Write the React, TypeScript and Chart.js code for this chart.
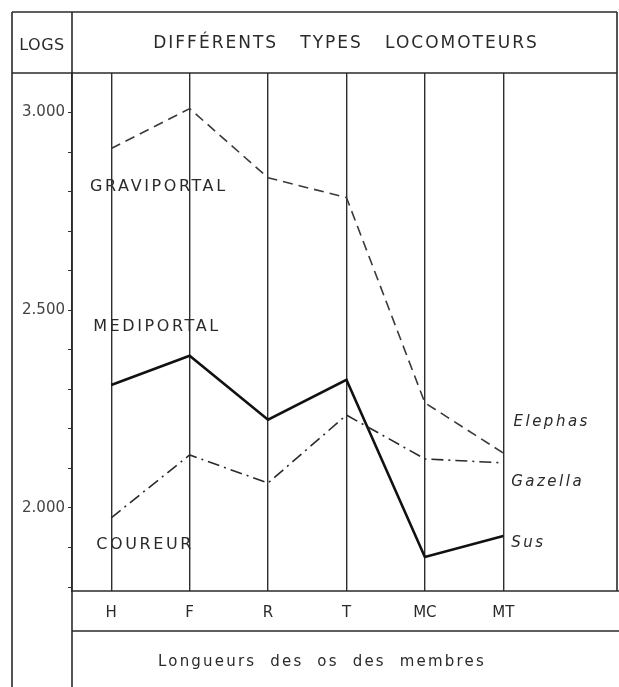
import React, { useEffect, useRef } from "react";
import { Chart, registerables } from "chart.js";

Chart.register(...registerables);

// ---- data ----
const categories = ["H", "F", "R", "T", "MC", "MT"];
const elephas = [2.909, 3.01, 2.835, 2.785, 2.266, 2.139];
const sus = [2.311, 2.385, 2.223, 2.324, 1.876, 1.929];
const gazella = [1.975, 2.134, 2.063, 2.235, 2.124, 2.114];
const yTickValues = [1.8, 1.9, 2.0, 2.1, 2.2, 2.3, 2.4, 2.5, 2.6, 2.7, 2.8, 2.9, 3.0];
const yLabelValues = [2.0, 2.5, 3.0];
const yLabelTexts = ["2.000", "2.500", "3.000"];
const zoneNames = ["GRAVIPORTAL", "MEDIPORTAL", "COUREUR"];
const speciesNames = ["Elephas", "Gazella", "Sus"];
const titleText = "DIFFÉRENTS   TYPES   LOCOMOTEURS";
const yAxisTitle = "LOGS";
const xAxisTitle = "Longueurs  des  os  des  membres";

// annotation anchors (data units)
const zoneAnchors = [
  { x: -0.27, y: 2.813 },
  { x: -0.23, y: 2.458 },
  { x: -0.19, y: 1.906 },
];
const speciesAnchors = [
  { x: 5.13, y: 2.218 },
  { x: 5.1, y: 2.066 },
  { x: 5.1, y: 1.911 },
];

const INK = "#2a2a2a";

const setLS = (ctx: any, v: string) => {
  try { ctx.letterSpacing = v; } catch (e) {}
};

const framePlugin = {
  id: "frame",
  beforeDraw(chart: any) {
    const ctx = chart.ctx;
    ctx.save();
    ctx.fillStyle = "#ffffff";
    ctx.fillRect(0, 0, chart.width, chart.height);
    ctx.restore();
  },
  afterDraw(chart: any) {
    const ctx = chart.ctx;
    const a = chart.chartArea;
    const xs = chart.scales.x;
    const ys = chart.scales.y;
    const H = chart.height;
    const W = chart.width;
    const left = 12;
    const top = 12;
    ctx.save();
    ctx.strokeStyle = INK;
    ctx.lineWidth = 1.6;
    const line = (x1: number, y1: number, x2: number, y2: number) => {
      ctx.beginPath();
      ctx.moveTo(x1, y1);
      ctx.lineTo(x2, y2);
      ctx.stroke();
    };
    // outer left border
    line(left, top, left, H);
    // header box
    line(left, top, a.right, top);
    line(left, a.top, a.right, a.top);
    // axis line full height
    line(a.left, top, a.left, H);
    // right border
    line(a.right, top, a.right, a.bottom);
    // bottom bands
    line(a.left, a.bottom, W, a.bottom);
    line(a.left, a.bottom + 40, W, a.bottom + 40);

    // header texts
    ctx.fillStyle = INK;
    ctx.textBaseline = "middle";
    ctx.textAlign = "center";
    ctx.font = "16px 'DejaVu Sans'";
    setLS(ctx, "0.5px");
    ctx.fillText(yAxisTitle, (left + a.left) / 2, (top + a.top) / 2 + 3);
    ctx.font = "17px 'DejaVu Sans'";
    setLS(ctx, "2px");
    ctx.fillText(titleText, 346, (top + a.top) / 2 + 1);
    // x axis title
    ctx.font = "15px 'DejaVu Sans'";
    setLS(ctx, "2.2px");
    ctx.fillText(xAxisTitle, 322, a.bottom + 40 + 31);

    // zone labels
    ctx.textAlign = "left";
    ctx.font = "16px 'DejaVu Sans'";
    setLS(ctx, "2.6px");
    zoneNames.forEach((t, i) => {
      ctx.fillText(t, xs.getPixelForValue(zoneAnchors[i].x), ys.getPixelForValue(zoneAnchors[i].y));
    });
    // species labels
    ctx.font = "italic 15px 'DejaVu Sans'";
    setLS(ctx, "2.5px");
    speciesNames.forEach((t, i) => {
      ctx.fillText(t, xs.getPixelForValue(speciesAnchors[i].x), ys.getPixelForValue(speciesAnchors[i].y));
    });
    setLS(ctx, "0px");
    ctx.restore();
  },
};

const pts = (arr: number[]) => arr.map((v, i) => ({ x: i, y: v }));

export default function App() {
  const ref = useRef<HTMLCanvasElement | null>(null);
  useEffect(() => {
    document.body.style.margin = "0";
    const c = ref.current!;
    const chart = new Chart(c, {
      type: "line",
      data: {
        datasets: [
          {
            label: speciesNames[0],
            data: pts(elephas),
            borderColor: "#3a3a3a",
            borderWidth: 1.6,
            borderDash: [10, 6],
            pointRadius: 0,
            tension: 0,
          },
          {
            label: speciesNames[1],
            data: pts(gazella),
            borderColor: "#2a2a2a",
            borderWidth: 1.6,
            borderDash: [12, 5, 2, 5],
            pointRadius: 0,
            tension: 0,
          },
          {
            label: speciesNames[2],
            data: pts(sus),
            borderColor: "#111111",
            borderWidth: 2.6,
            pointRadius: 0,
            tension: 0,
          },
        ],
      },
      options: {
        animation: false,
        responsive: false,
        devicePixelRatio: 1,
        layout: { padding: { left: 12, top: 73, right: 2, bottom: 56 } },
        plugins: { legend: { display: false }, tooltip: { enabled: false } },
        scales: {
          x: {
            type: "linear",
            min: -0.5,
            max: 6.45,
            afterBuildTicks: (s: any) => {
              s.ticks = categories.map((_, i) => ({ value: i }));
            },
            afterFit: (s: any) => {
              s.height = 40;
            },
            ticks: {
              autoSkip: false,
              maxRotation: 0,
              color: INK,
              font: { family: "'DejaVu Sans'", size: 15 },
              padding: 13,
              callback: (v: any) => categories[v] ?? "",
            },
            grid: { color: "#2e2e2e", lineWidth: 1.4, drawTicks: false },
            border: { display: false },
          },
          y: {
            type: "linear",
            min: 1.79,
            max: 3.1,
            afterBuildTicks: (s: any) => {
              s.ticks = yTickValues.map((v) => ({ value: v }));
            },
            afterFit: (s: any) => {
              s.width = 60;
            },
            ticks: {
              autoSkip: false,
              color: "#444",
              font: { family: "'DejaVu Sans'", size: 15 },
              padding: 3,
              callback: (v: any) => {
                const idx = yLabelValues.findIndex((l) => Math.abs(l - v) < 1e-6);
                return idx >= 0 ? yLabelTexts[idx] : "";
              },
            },
            grid: { drawOnChartArea: false, drawTicks: true, tickLength: 4, color: "#333", lineWidth: 1 },
            border: { display: true, color: INK, width: 1.6 },
          },
        },
      },
      plugins: [framePlugin],
    } as any);
    return () => chart.destroy();
  }, []);
  return (
    <div style={{ position: "absolute", left: 0, top: 0, width: 619, height: 687 }}>
      <canvas ref={ref} width={619} height={687} />
    </div>
  );
}
